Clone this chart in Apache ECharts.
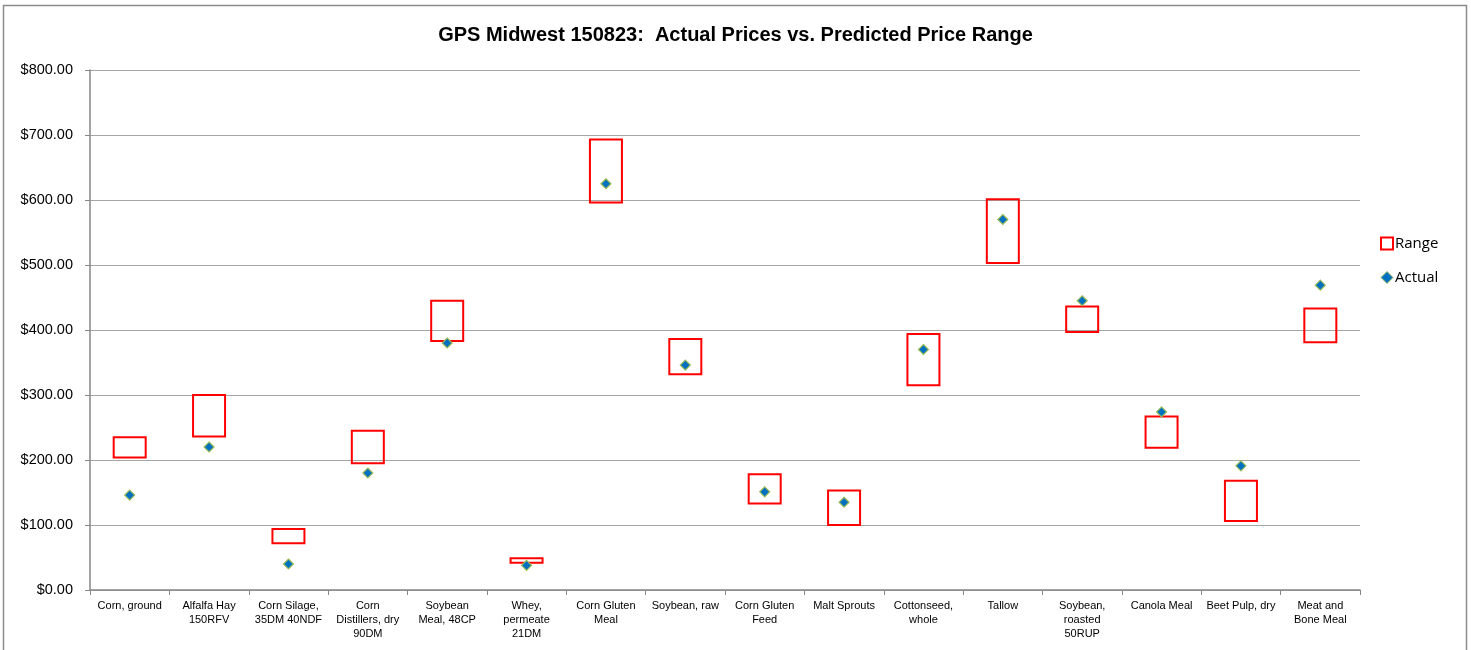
<!DOCTYPE html>
<html>
<head>
<meta charset="utf-8">
<script src="https://cdn.jsdelivr.net/npm/echarts@6/dist/echarts.min.js"></script>
<style>
  html, body { margin: 0; padding: 0; background: #fff; }
  #main-chart { width: 1471px; height: 650px; }
</style>
</head>
<body>
<div id="main-chart"></div>
<script>
const categories = [
    'Corn, ground', 'Alfalfa Hay\n150RFV', 'Corn Silage,\n35DM 40NDF', 'Corn\nDistillers, dry\n90DM',
    'Soybean\nMeal, 48CP', 'Whey,\npermeate\n21DM', 'Corn Gluten\nMeal', 'Soybean, raw',
    'Corn Gluten\nFeed', 'Malt Sprouts', 'Cottonseed,\nwhole', 'Tallow',
    'Soybean,\nroasted\n50RUP', 'Canola Meal', 'Beet Pulp, dry', 'Meat and\nBone Meal'
];
const rangeLow  = [204, 236, 72, 195, 383, 42, 596, 332, 133, 100, 315, 503, 397, 219, 106, 381];
const rangeHigh = [235, 300, 94, 245, 445, 49, 693, 386, 178, 153, 394, 601, 436, 267, 168, 433];
const actual    = [146, 220, 40, 180, 380, 38, 625, 346, 151, 135, 370, 570, 445, 274, 191, 469];

const chartDom = document.getElementById('main-chart');
const mainChart = echarts.init(chartDom);

const gridColor = '#a6a6a6';
const rangeRed = '#ff0000';

const option = {
    animation: false,
    backgroundColor: '#fff',
    graphic: [{
        type: 'rect',
        shape: { x: 3.5, y: 5.5, width: 1463, height: 700 },
        style: { fill: 'none', stroke: '#8c8c8c', lineWidth: 1.5 },
        silent: true
    }],
    title: {
        text: 'GPS Midwest 150823:  Actual Prices vs. Predicted Price Range',
        left: 'center',
        top: 20,
        textStyle: { fontFamily: 'Liberation Sans', fontSize: 20, fontWeight: 'bold', color: '#000' }
    },
    legend: {
        orient: 'vertical',
        left: 1375,
        top: 231,
        itemGap: 19,
        itemWidth: 12,
        itemHeight: 12,
        textStyle: { fontFamily: 'Open Sans', fontSize: 15, color: '#000', padding: [0, 0, 0, -3] },
        data: [
            { name: 'Range', icon: 'rect', itemStyle: { color: '#fff', borderColor: rangeRed, borderWidth: 2 } },
            { name: 'Actual', icon: 'diamond', itemStyle: { color: '#0070c0', borderColor: '#9bbb59', borderWidth: 1 } }
        ]
    },
    grid: { left: 90, right: 111, top: 70, bottom: 60 },
    xAxis: {
        type: 'category',
        data: categories,
        boundaryGap: true,
        axisLine: { lineStyle: { color: '#868686', width: 1.5 } },
        axisTick: { show: true, length: 5, interval: 0, lineStyle: { color: '#868686' } },
        axisLabel: {
            interval: 0,
            margin: 9,
            fontFamily: 'Liberation Sans',
            fontSize: 11,
            lineHeight: 14,
            color: '#000'
        }
    },
    yAxis: {
        type: 'value',
        min: 0,
        max: 800,
        interval: 100,
        axisLine: { show: true, lineStyle: { color: '#868686', width: 1.5 } },
        axisTick: { show: true, length: 5, lineStyle: { color: '#868686' } },
        splitLine: { lineStyle: { color: gridColor, width: 1.2 } },
        axisLabel: {
            margin: 17,
            fontFamily: 'Liberation Sans',
            fontSize: 14.5,
            color: '#000',
            formatter: v => '$' + v.toFixed(2)
        }
    },
    series: [
        {
            name: 'Range',
            type: 'custom',
            itemStyle: { color: '#fff', borderColor: rangeRed, borderWidth: 2 },
            renderItem: (params, api) => {
                const i = api.value(0);
                const top = api.coord([i, api.value(2)]);
                const bottom = api.coord([i, api.value(1)]);
                const w = 32;
                return {
                    type: 'rect',
                    shape: { x: top[0] - w / 2, y: top[1], width: w, height: bottom[1] - top[1] },
                    style: { fill: 'none', stroke: rangeRed, lineWidth: 2 }
                };
            },
            data: categories.map((c, i) => [i, rangeLow[i], rangeHigh[i]]),
            z: 2
        },
        {
            name: 'Actual',
            type: 'scatter',
            symbol: 'diamond',
            symbolSize: 10,
            itemStyle: { color: '#0070c0', borderColor: '#9bbb59', borderWidth: 1.2, opacity: 1 },
            data: actual.map((v, i) => [i, v]),
            z: 3
        }
    ]
};

mainChart.setOption(option);
</script>
</body>
</html>
